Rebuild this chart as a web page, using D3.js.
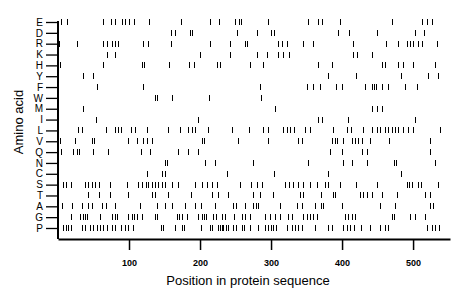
<!DOCTYPE html>
<html lang="en">
<head>
	<meta charset="UTF-8">
	<script src="https://d3js.org/d3.v7.min.js"></script>
	<style>
	body{
		margin: 0;
		background-color: white;
		font-family: "Liberation Sans", Arial, sans-serif;
	}
	</style>
</head>
<body>
	<svg width="460" height="299"></svg>

	<script>
// amino acids, top to bottom
let aminoAcids = ["E","D","R","K","H","Y","F","W","M","I","L","V","Q","N","C","S","T","A","G","P"]

// positions in the sequence where each residue occurs
let posE = [4,13,63,75,80,90,94,100,107,128,173,214,227,249,255,258,296,352,366,372,397,470,513,520,527]
let posD = [159,165,186,189,252,280,300,304,394,410,449,503,515]
let posR = [1,27,63,69,76,80,85,120,127,159,214,242,263,266,310,315,323,345,359,415,462,479,492,496,500,507,513,534]
let posK = [69,80,200,242,280,294,310,317,325,415,421,442]
let posH = [3,63,118,121,156,185,192,224,228,270,289,366,386,456,461,479,486,500,531]
let posY = [35,49,380,420,483,521,535]
let posF = [55,120,285,351,359,369,392,400,432,442,445,448,456,465,489,506]
let posW = [137,139,161,213,286]
let posM = [35,306,442,449,456]
let posI = [54,197,366,372,408,503]
let posL = [28,34,68,80,85,89,103,108,125,155,172,183,189,193,211,245,269,289,296,317,323,327,332,348,355,387,407,413,430,442,449,454,461,465,470,475,479,486,493,500,538]
let posV = [3,24,48,51,99,111,120,125,132,203,206,254,296,338,344,386,390,393,401,414,418,423,428,439,466,524]
let posQ = [4,21,27,30,49,70,117,130,169,183,197,383,400,428,435,524]
let posN = [151,154,207,221,275,352,401,414,435,473,476,531]
let posC = [125,146,151,238,304,380,483]
let posS = [7,11,18,38,42,48,52,58,73,97,113,118,124,127,132,137,141,146,151,161,169,193,203,210,217,224,256,272,280,287,320,325,331,338,345,355,365,376,380,397,420,449,492,494,499,507,511,535]
let posT = [42,58,73,99,132,137,155,187,217,225,239,275,285,303,341,345,370,387,390,425,430,435,442,456,477,517,524]
let posA = [6,20,34,42,48,62,68,80,115,139,151,161,179,193,201,221,246,251,263,275,279,282,313,337,344,362,370,373,400,454,475,524,528]
let posG = [18,31,35,38,41,59,76,80,83,99,104,107,111,118,137,139,168,170,175,182,197,203,206,208,218,223,231,235,248,259,263,270,292,299,306,313,324,330,345,351,355,359,365,404,408,414,418,470,473,496,503,517]
let posP = [7,11,14,18,34,38,45,49,55,59,63,69,76,80,89,94,99,106,145,148,165,175,177,201,214,217,225,228,231,232,237,239,246,251,259,262,270,282,292,296,300,303,307,323,330,334,338,344,362,380,386,401,407,411,417,427,439,454,461,465,520,527,531,537]

let xTicks = [100, 200, 300, 400, 500]
let seqLength = 552

let positions = {E: posE, D: posD, R: posR, K: posK, H: posH, Y: posY, F: posF, W: posW, M: posM, I: posI,
	L: posL, V: posV, Q: posQ, N: posN, C: posC, S: posS, T: posT, A: posA, G: posG, P: posP}

// flatten into one list of marks
let marks = []
aminoAcids.forEach(function(a) {
	positions[a].forEach(function(p) {
		marks.push({aa: a, pos: p})
	})
})

const svg = d3.select("svg")

let x = d3.scaleLinear()
	.domain([0, seqLength])
	.range([58, 450])

let y = d3.scalePoint()
	.domain(aminoAcids)
	.range([22, 228])

// residue marks
svg.append("g")
	.selectAll("line")
	.data(marks)
	.join("line")
	.attr("x1", function(d) { return Math.round(x(d.pos)) + 0.5 })
	.attr("x2", function(d) { return Math.round(x(d.pos)) + 0.5 })
	.attr("y1", function(d) { return y(d.aa) - 3 })
	.attr("y2", function(d) { return y(d.aa) + 3 })
	.attr("stroke", "black")
	.attr("stroke-width", 1)
	.attr("shape-rendering", "crispEdges")

// y axis
let yAxis = svg.append("g")
	.attr("transform", "translate(58,0)")
	.call(d3.axisLeft(y).tickSize(12).tickPadding(3))

yAxis.select(".domain")
	.attr("d", "M0," + (y("E") - 1) + "V239")
	.attr("stroke-width", 2)
yAxis.selectAll(".tick line").attr("stroke-width", 1.3)
yAxis.selectAll("text")
	.style("font-family", "Liberation Sans, Arial, sans-serif")
	.style("font-size", "10px")
	.attr("fill", "#000")

// x axis
let xAxis = svg.append("g")
	.attr("transform", "translate(0,239)")
	.call(d3.axisBottom(x).tickValues(xTicks).tickSize(11).tickPadding(10).tickSizeOuter(0))

xAxis.select(".domain").attr("stroke-width", 2)
xAxis.selectAll(".tick line").attr("stroke-width", 1.5)
xAxis.selectAll("text")
	.style("font-family", "Liberation Sans, Arial, sans-serif")
	.style("font-size", "9px")
	.style("font-weight", "bold")
	.attr("fill", "#000")

// axis titles
svg.append("text")
	.attr("x", 248)
	.attr("y", 285)
	.attr("text-anchor", "middle")
	.style("font-size", "13px")
	.text("Position in protein sequence")

svg.append("text")
	.attr("transform", "translate(23,122) rotate(-90)")
	.attr("text-anchor", "middle")
	.style("font-size", "13px")
	.text("Amino acid")
	</script>
</body>
</html>
